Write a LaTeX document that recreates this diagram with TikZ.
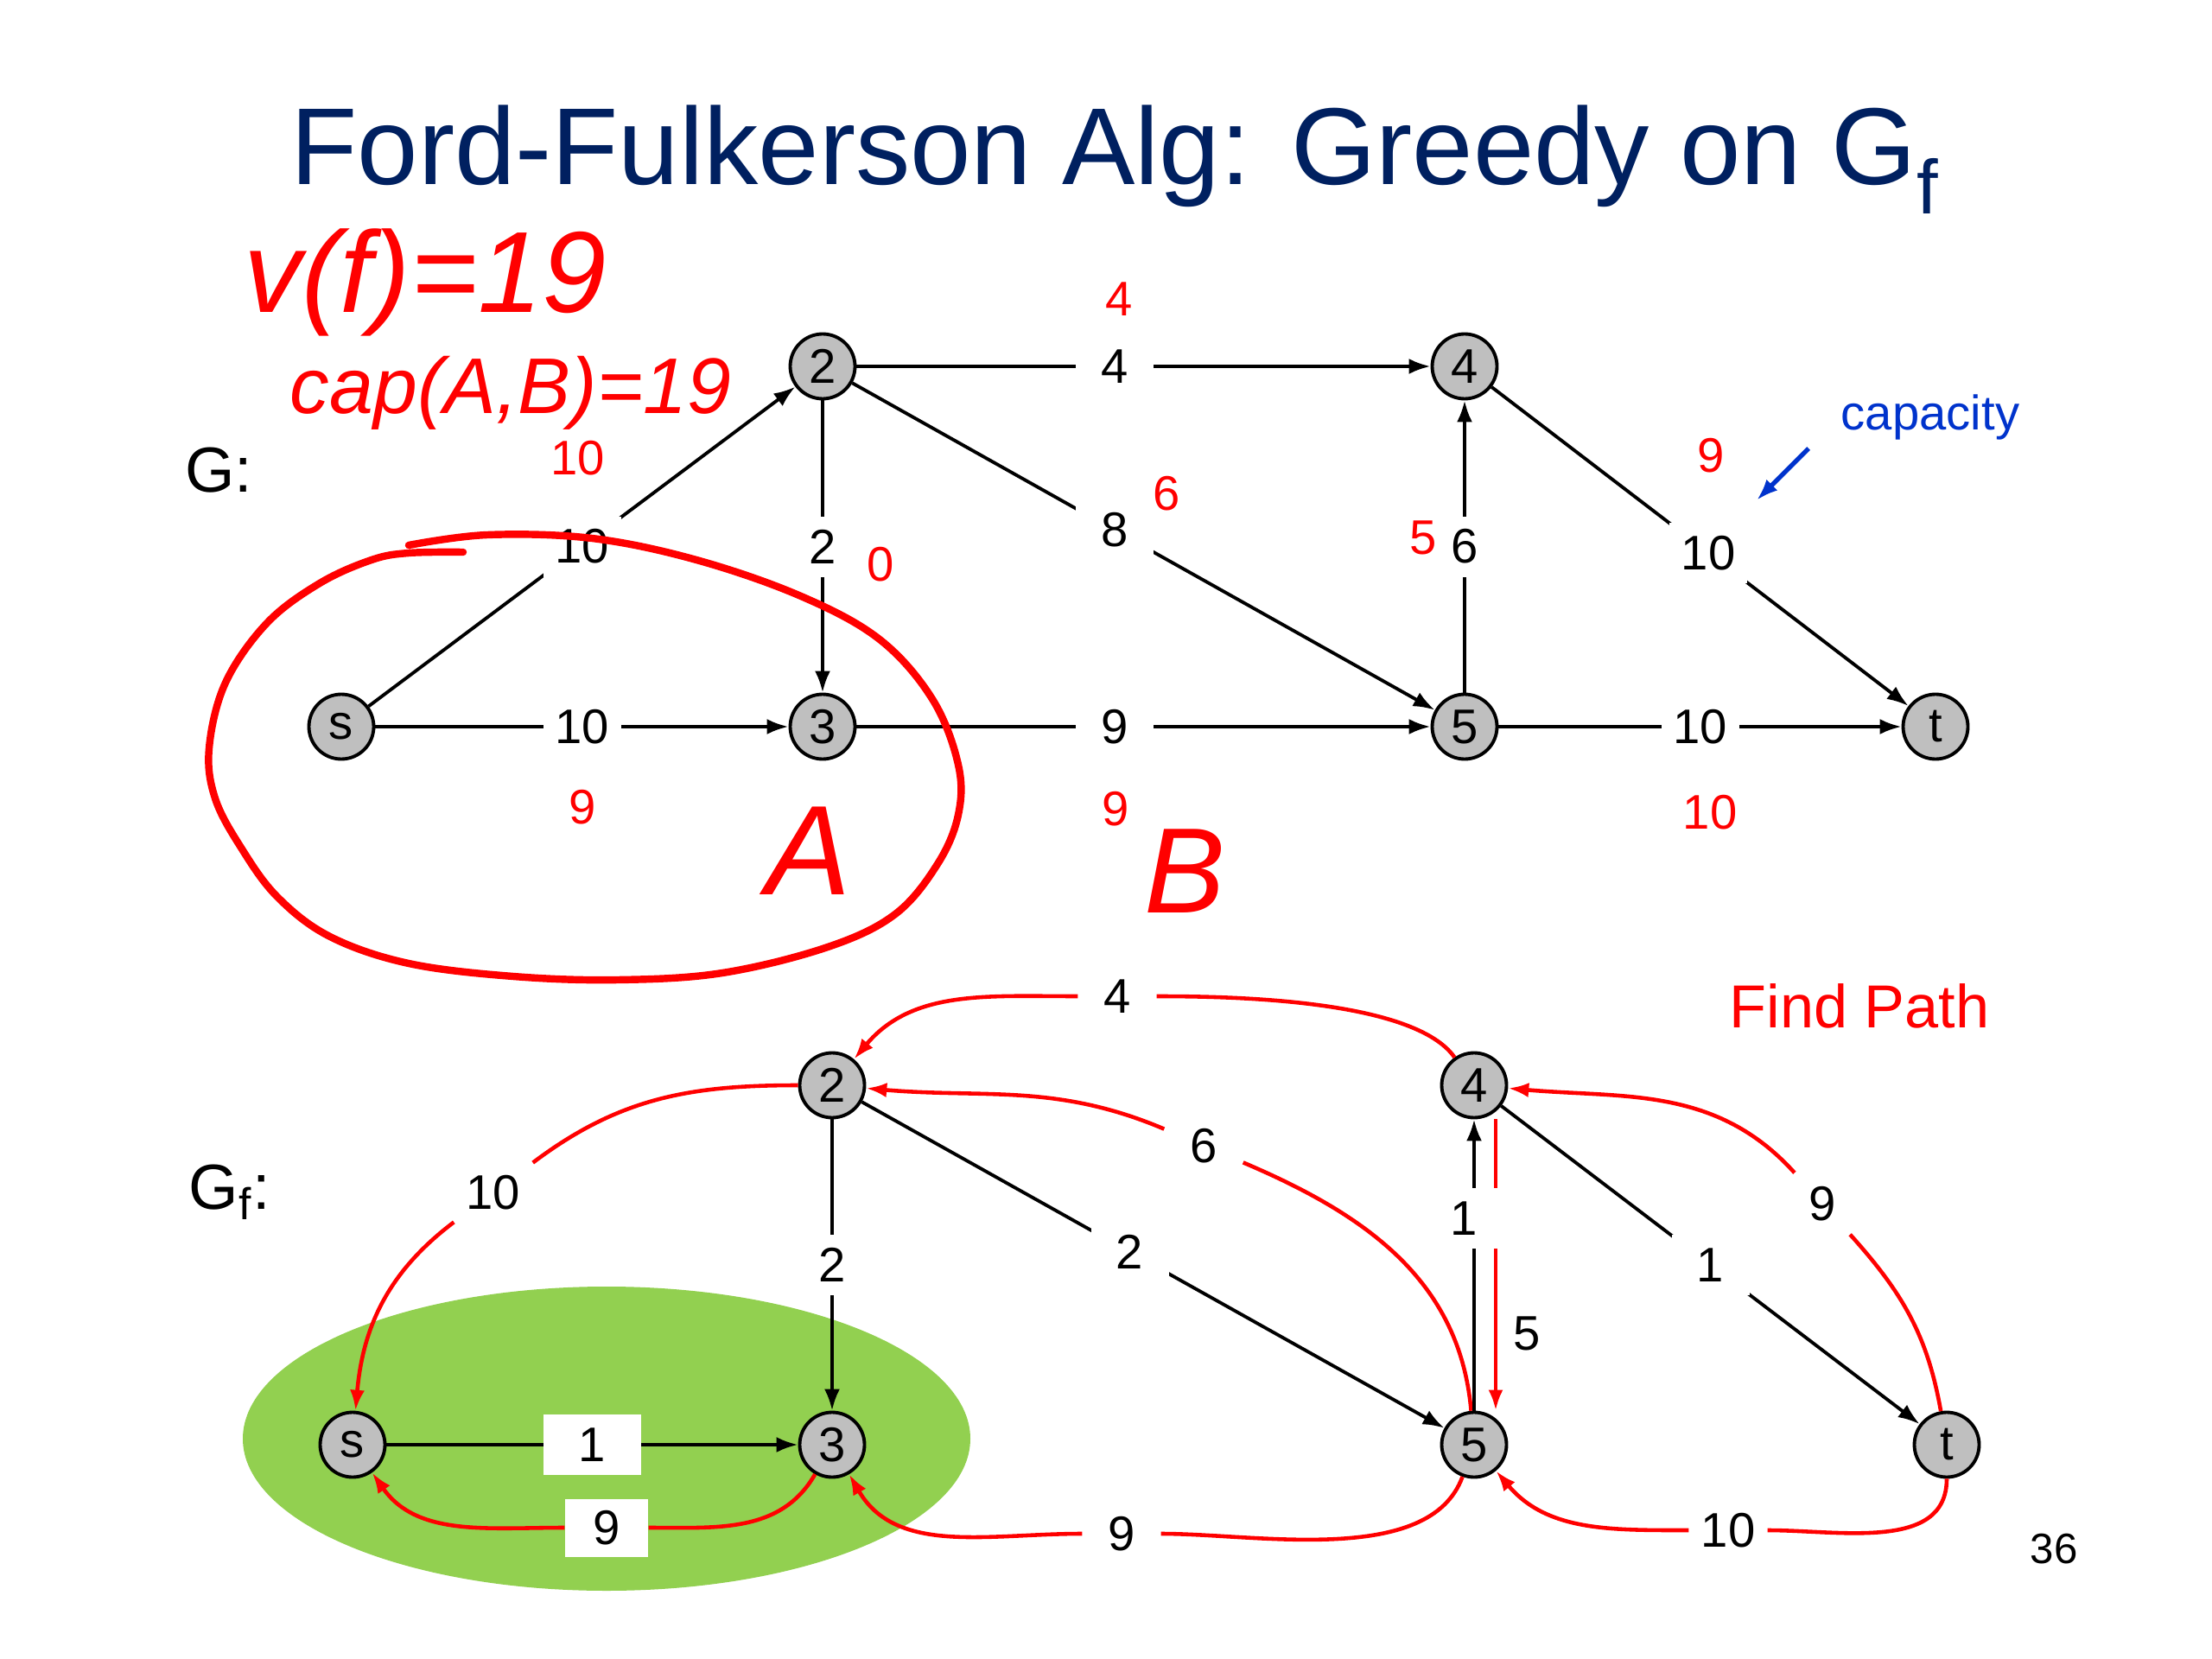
\documentclass[tikz,border=0pt]{standalone}
\usepackage{fontspec}
\setmainfont{Liberation Sans}
\usetikzlibrary{shapes}
\usetikzlibrary{arrows.meta}
\definecolor{navy}{RGB}{0,32,96}
\definecolor{slidegreen}{RGB}{146,208,80}
\definecolor{capblue}{RGB}{0,51,204}
\tikzstyle{line} = [draw, line width=1.1pt, -{Latex[length=0.25cm, width=0.18cm]}]
\tikzstyle{resid} = [draw=red, line width=1.3pt, -{Latex[length=0.24cm, width=0.17cm]}]
\tikzstyle{vertex} = [circle, draw, line width=1.1pt, fill=gray!50, minimum size=0.75cm, inner sep=0pt, font=\fontsize{16}{18}\selectfont]
\tikzstyle{lbl} = [fill=white, inner sep=0pt, minimum width=0.9cm, minimum height=0.7cm, font=\fontsize{16}{18}\selectfont]
\tikzstyle{flow} = [text=red, font=\fontsize{16}{18}\selectfont]
\tikzstyle{hand} = [draw=red, line width=2.4pt, line cap=round, line join=round]

\begin{document}
\begin{tikzpicture}
\useasboundingbox (0,0) rectangle (25.6,-19.2);
\node[anchor=base west, text=navy, font=\fontsize{36}{40}\selectfont] (title) at (3.24,-2.14) {Ford-Fulkerson Alg: Greedy on G\textsubscript{f}};

% network G with flow
\node[font=\fontsize{21}{24}\selectfont] (G) at (2.53,-5.44) {G:};
\node[vertex] (s) at (3.95,-8.41) {s};
\node[vertex] (v2) at (9.52,-4.24) {2};
\node[vertex] (v3) at (9.52,-8.41) {3};
\node[vertex] (v4) at (16.95,-4.24) {4};
\node[vertex] (v5) at (16.95,-8.41) {5};
\node[vertex] (t) at (22.40,-8.41) {t};
\draw[line] (s) -- node[lbl] (cs2) {10} (v2);
\draw[line] (s) -- node[lbl] (cs3) {10} (v3);
\draw[line] (v2) -- node[lbl] (c23) {2} (v3);
\draw[line] (v2) -- node[lbl, pos=0.45] (c24) {4} (v4);
\draw[line] (v2) -- node[lbl, pos=0.45] (c25) {8} (v5);
\draw[line] (v3) -- node[lbl, pos=0.45] (c35) {9} (v5);
\draw[line] (v5) -- node[lbl] (c54) {6} (v4);
\draw[line] (v4) -- node[lbl, pos=0.52] (c4t) {10} (t);
\draw[line] (v5) -- node[lbl] (c5t) {10} (t);
\node[flow] (fs2) at (6.69,-5.30) {10};
\node[flow] (fs3) at (6.74,-9.34) {9};
\node[flow] (f23) at (10.19,-6.53) {0};
\node[flow] (f24) at (12.95,-3.46) {4};
\node[flow] (f25) at (13.50,-5.71) {6};
\node[flow] (f35) at (12.91,-9.36) {9};
\node[flow] (f54) at (16.47,-6.22) {5};
\node[flow] (f4t) at (19.80,-5.27) {9};
\node[flow] (f5t) at (19.79,-9.40) {10};
\node[text=capblue, font=\fontsize{16}{18}\selectfont] (capa) at (22.34,-4.83) {capacity};
\coordinate (capfrom) at (20.93,-5.19);
\coordinate (capto) at (20.33,-5.79);
\draw[capblue, line width=1.5pt, -{Latex[length=0.25cm, width=0.18cm]}] (capfrom) -- (capto);

% pen notes
\node[text=red, font=\itshape\fontsize{38}{40}\selectfont] (vf) at (4.92,-3.27) {v(f)=19};
\node[text=red, font=\itshape\fontsize{26}{30}\selectfont] (capAB) at (5.91,-4.55) {cap(A,B)=19};
\draw[hand] plot[smooth, tension=0.6] coordinates {(4.73,-6.31) (5.64,-6.19) (6.85,-6.23) (8.06,-6.48) (9.27,-6.90) (10.18,-7.40) (10.79,-8.09) (11.09,-8.85) (11.09,-9.43) (10.85,-10.00) (10.36,-10.58) (9.58,-10.96) (8.36,-11.26) (7.15,-11.34) (5.94,-11.30) (4.73,-11.15) (3.82,-10.84) (3.21,-10.38) (2.79,-9.81) (2.49,-9.24) (2.42,-8.66) (2.61,-7.90) (3.09,-7.21) (3.70,-6.75) (4.30,-6.48) (4.73,-6.40) (5.36,-6.39)};
\node[text=red, font=\itshape\fontsize{42}{44}\selectfont] (A) at (9.36,-9.85) {A};
\node[text=red, font=\itshape\fontsize{40}{44}\selectfont] (B) at (13.71,-10.08) {B};

% residual graph Gf
\node[font=\fontsize{21}{24}\selectfont] (Gf) at (2.66,-13.80) {G\textsubscript{f}:};
\fill[slidegreen] (7.02,-16.65) ellipse (4.21 and 1.76);
\node[vertex] (rs) at (4.08,-16.72) {s};
\node[vertex] (r2) at (9.63,-12.56) {2};
\node[vertex] (r3) at (9.63,-16.72) {3};
\node[vertex] (r4) at (17.06,-12.56) {4};
\node[vertex] (r5) at (17.06,-16.72) {5};
\node[vertex] (rt) at (22.53,-16.72) {t};
\node[lbl] (l42) at (12.93,-11.53) {4};
\node[lbl] (l52) at (13.93,-13.26) {6};
\node[lbl] (l2s) at (5.71,-13.80) {10};
\node[lbl, minimum width=0.96cm, minimum height=0.67cm] (l3s) at (7.02,-17.68) {9};
\node[lbl] (l53) at (12.98,-17.75) {9};
\node[lbl] (lt5) at (20.00,-17.71) {10};
\node[lbl] (lt4) at (21.09,-13.93) {9};
\node[font=\fontsize{16}{18}\selectfont] (l45) at (17.67,-15.43) {5};
\draw[resid] (r4) to[out=125, in=0, looseness=0.6] (l42) to[out=180, in=50] (r2);
\draw[resid] (r5) to[out=95, in=-23] (l52) to[out=157, in=-5] (r2);
\draw[resid] (r2) to[out=180, in=37] (l2s) to[out=217, in=85] (rs);
\draw[resid] (r3) to[out=-120, in=0] (l3s) to[out=180, in=-55] (rs);
\draw[resid] (r5) to[out=-110, in=0, looseness=0.8] (l53) to[out=180, in=-60] (r3);
\draw[resid] (rt) to[out=-90, in=0] (lt5) to[out=180, in=-50] (r5);
\draw[resid] (rt) to[out=100, in=-48] (lt4) to[out=132, in=-5] (r4);
\draw[resid] ([xshift=0.25cm]r4.south) -- ([xshift=0.25cm]r5.north);
\draw[line] (rs) -- node[lbl, minimum width=1.13cm] (ds3) {1} (r3);
\draw[line] (r2) -- node[lbl] (d23) {2} (r3);
\draw[line] (r2) -- node[lbl, pos=0.46] (d25) {2} (r5);
\draw[line] (r5) -- node[lbl, pos=0.66, xshift=-0.12cm] (d54) {1} (r4);
\draw[line] (r4) -- node[lbl] (d4t) {1} (rt);
\node[text=red, font=\fontsize{20}{24}\selectfont] (find) at (21.52,-11.64) {Find Path};
\node[font=\fontsize{14}{16}\selectfont] (pageno) at (23.77,-17.93) {36};
\end{tikzpicture}
\end{document}
